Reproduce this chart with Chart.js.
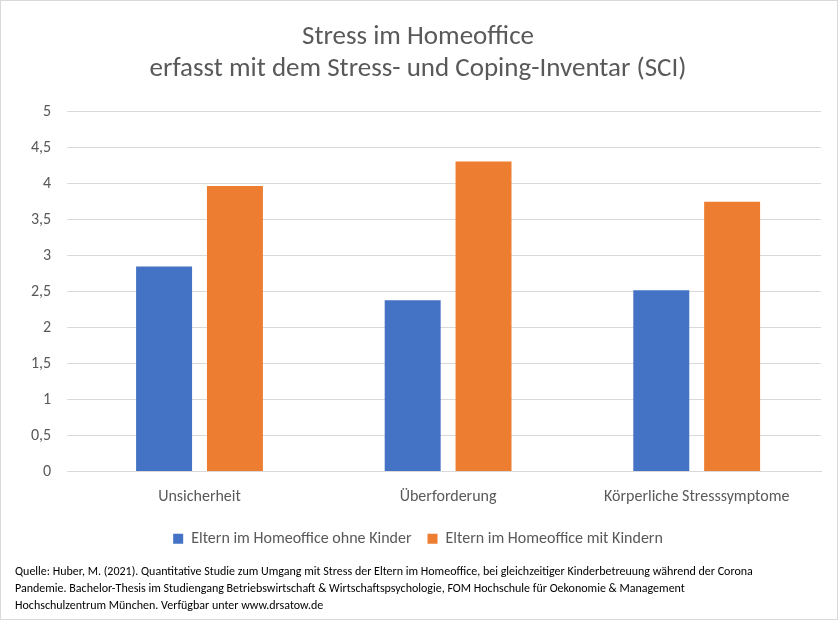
<!DOCTYPE html>
<html>
<head>
<meta charset="utf-8">
<script src="https://cdn.jsdelivr.net/npm/chart.js@4"></script>
<style>
  body { margin: 0; background: #fff; }
  #wrap { width: 836px; height: 618px; border: 1px solid #d9d9d9; position: relative; }
</style>
</head>
<body>
<div id="wrap"><canvas id="stressChart"></canvas></div>
<script>
const categories = ['Unsicherheit', 'Überforderung', 'Körperliche Stresssymptome'];
const ohneKinder = [2.85, 2.38, 2.52];
const mitKindern = [3.97, 4.31, 3.75];
const sourceLines = [
    'Quelle: Huber, M. (2021). Quantitative Studie zum Umgang mit Stress der Eltern im Homeoffice, bei gleichzeitiger Kinderbetreuung während der Corona',
    'Pandemie. Bachelor-Thesis im Studiengang Betriebswirtschaft & Wirtschaftspsychologie, FOM Hochschule für Oekonomie & Management',
    'Hochschulzentrum München. Verfügbar unter www.drsatow.de'
];

Chart.defaults.font.family = 'Carlito, "Open Sans", "Noto Sans", sans-serif';

new Chart(document.getElementById('stressChart').getContext('2d'), {
    type: 'bar',
    data: {
        labels: categories,
        datasets: [
            { label: 'Eltern im Homeoffice ohne Kinder', data: ohneKinder, backgroundColor: '#4472c4' },
            { label: 'Eltern im Homeoffice mit Kindern', data: mitKindern, backgroundColor: '#ed7d31' }
        ]
    },
    options: {
        responsive: true,
        maintainAspectRatio: false,
        animation: false,
        locale: 'de-DE',
        layout: { padding: { left: 14, right: 16, top: 10, bottom: 4 } },
        datasets: { bar: { categoryPercentage: 0.57, barPercentage: 0.79 } },
        plugins: {
            title: {
                display: true,
                text: ['Stress im Homeoffice', 'erfasst mit dem Stress- und Coping-Inventar (SCI)'],
                color: '#595959',
                font: { size: 27, weight: 'normal', lineHeight: 1.2 },
                padding: { top: 10, bottom: 26 }
            },
            subtitle: {
                display: true,
                position: 'bottom',
                align: 'start',
                text: sourceLines,
                color: '#000',
                font: { size: 12, lineHeight: 1.45 },
                padding: { top: 6, bottom: 0 }
            },
            legend: {
                position: 'bottom',
                labels: { color: '#595959', font: { size: 16 }, boxWidth: 10, boxHeight: 10, padding: 16 }
            },
            tooltip: { enabled: false }
        },
        scales: {
            x: {
                grid: { display: false },
                border: { color: '#d9d9d9' },
                ticks: { color: '#595959', font: { size: 16 }, padding: 8 }
            },
            y: {
                min: 0, max: 5,
                ticks: {
                    stepSize: 0.5, color: '#595959', font: { size: 16 }, padding: 16,
                    callback: v => String(v).replace('.', ',')
                },
                grid: { color: '#d9d9d9' },
                border: { display: false }
            }
        }
    }
});
</script>
</body>
</html>
